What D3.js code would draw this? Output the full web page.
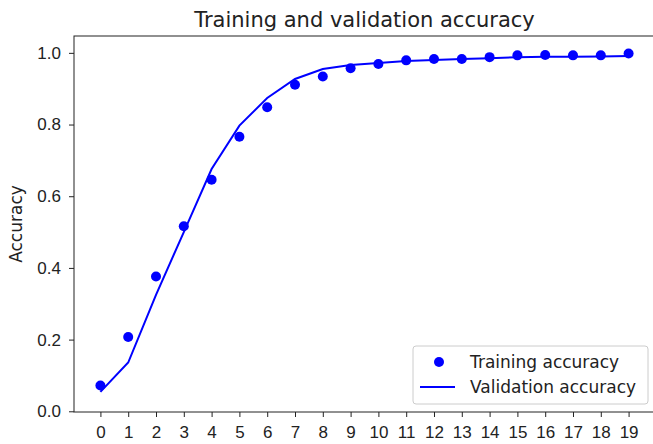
<!DOCTYPE html>
<html>
<head>
<meta charset="utf-8">
<script src="https://cdn.jsdelivr.net/npm/d3@7"></script>
<style>
  body { margin: 0; background: #fff; }
  svg { display: block; font-family: "DejaVu Sans", sans-serif; }
  .tick text { fill: #222; font-size: 17px; }
  .tick line { stroke: #222; }
</style>
</head>
<body>
<svg id="chart" width="653" height="444"></svg>
<script>

// epochs and accuracy per epoch
const epochs = [0, 1, 2, 3, 4, 5, 6, 7, 8, 9, 10, 11, 12, 13, 14, 15, 16, 17, 18, 19];
const trainAcc = [0.072, 0.207, 0.376, 0.516, 0.646, 0.766, 0.848, 0.911, 0.934, 0.957,
                  0.969, 0.979, 0.983, 0.983, 0.988, 0.993, 0.994, 0.993, 0.993, 0.998];
const valAcc = [0.054, 0.136, 0.325, 0.500, 0.676, 0.797, 0.874, 0.927, 0.955, 0.966,
                0.972, 0.977, 0.980, 0.983, 0.985, 0.988, 0.989, 0.989, 0.990, 0.991];
const yTicks = [0.0, 0.2, 0.4, 0.6, 0.8, 1.0];
const xLimits = [-0.95, 19.95];
const yLimits = [-0.002, 1.047];
const legendLabels = ["Training accuracy", "Validation accuracy"];

const svg = d3.select("#chart");
const margin = { top: 36, left: 74, bottom: 412, right: 655 };

const x = d3.scaleLinear().domain(xLimits).range([margin.left, margin.right]);
const y = d3.scaleLinear().domain(yLimits).range([margin.bottom, margin.top]);

// axes
svg.append("g")
  .attr("transform", `translate(0,${margin.bottom})`)
  .call(d3.axisBottom(x).tickValues(epochs).tickSize(5).tickPadding(9).tickFormat(d3.format("d")))
  .call(g => g.select(".domain").remove());

svg.append("g")
  .attr("transform", `translate(${margin.left},0)`)
  .call(d3.axisLeft(y).tickValues(yTicks).tickSize(5).tickPadding(8).tickFormat(d3.format(".1f")))
  .call(g => g.select(".domain").remove());

// frame
svg.append("rect")
  .attr("x", margin.left)
  .attr("y", margin.top)
  .attr("width", margin.right - margin.left)
  .attr("height", margin.bottom - margin.top)
  .attr("fill", "none")
  .attr("stroke", "#222")
  .attr("stroke-width", 1);

// validation line
const line = d3.line()
  .x((d, i) => x(epochs[i]))
  .y(d => y(d));

svg.append("path")
  .datum(valAcc)
  .attr("d", line)
  .attr("fill", "none")
  .attr("stroke", "blue")
  .attr("stroke-width", 2);

// training dots
svg.append("g")
  .selectAll("circle")
  .data(trainAcc)
  .enter().append("circle")
  .attr("cx", (d, i) => x(epochs[i]))
  .attr("cy", d => y(d))
  .attr("r", 5)
  .attr("fill", "blue");

// title + y label
svg.append("text")
  .attr("x", (margin.left + margin.right) / 2)
  .attr("y", 27)
  .attr("text-anchor", "middle")
  .style("font-size", "21px")
  .style("fill", "#222")
  .text("Training and validation accuracy");

svg.append("text")
  .attr("transform", `translate(22,${(margin.top + margin.bottom) / 2}) rotate(-90)`)
  .attr("text-anchor", "middle")
  .style("font-size", "17px")
  .style("fill", "#222")
  .text("Accuracy");

// legend
const legend = svg.append("g").attr("transform", "translate(413,346)");

legend.append("rect")
  .attr("width", 235)
  .attr("height", 58)
  .attr("rx", 3)
  .attr("fill", "white")
  .attr("fill-opacity", 0.8)
  .attr("stroke", "#ccc");

legend.append("circle")
  .attr("cx", 26)
  .attr("cy", 16)
  .attr("r", 5)
  .attr("fill", "blue");

legend.append("line")
  .attr("x1", 7).attr("x2", 42)
  .attr("y1", 41).attr("y2", 41)
  .attr("stroke", "blue")
  .attr("stroke-width", 2);

legend.selectAll("text.lbl")
  .data(legendLabels)
  .enter().append("text")
  .attr("class", "lbl")
  .attr("x", 57)
  .attr("y", (d, i) => 22 + i * 25)
  .style("font-size", "17px")
  .style("fill", "#222")
  .text(d => d);

</script>
</body>
</html>
